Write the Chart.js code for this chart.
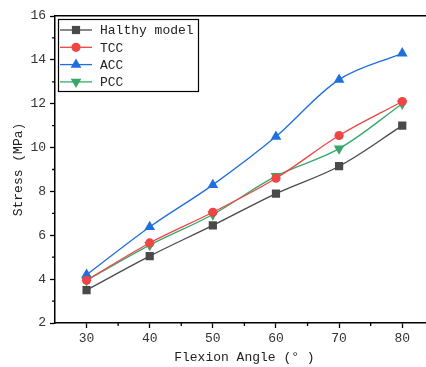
<!DOCTYPE html>
<html>
<head>
<meta charset="utf-8">
<script src="https://cdn.jsdelivr.net/npm/chart.js@4"></script>
<style>
  html, body { margin: 0; padding: 0; background: #fff; overflow: hidden; }
  #wrap { width: 440px; height: 367px; }
</style>
</head>
<body>
<div id="wrap"><canvas id="chart" width="440" height="367"></canvas></div>
<script>
// data
const angles = [30, 40, 50, 60, 70, 80];
const healthy = [3.5, 5.05, 6.45, 7.9, 9.15, 11.0];
const tcc = [3.95, 5.65, 7.05, 8.6, 10.55, 12.1];
const acc = [4.2, 6.38, 8.3, 10.5, 13.1, 14.3];
const pcc = [3.95, 5.55, 6.95, 8.7, 9.95, 12.0];

const xTicks = [30, 40, 50, 60, 70, 80];
const yTicks = [2, 4, 6, 8, 10, 12, 14, 16];
const xMinor = [35, 45, 55, 65, 75];
const yMinor = [3, 5, 7, 9, 11, 13, 15];

const FONT = "'Liberation Mono', monospace";

function series(label, values, color, style, size, rot) {
    return {
        label: label,
        data: angles.map((a, i) => ({ x: a, y: values[i] })),
        borderColor: color,
        backgroundColor: color,
        borderWidth: 1.3,
        pointStyle: style,
        pointRadius: size,
        pointHoverRadius: size,
        pointRotation: rot || 0,
        pointBorderWidth: 0,
        tension: 0.35,
        fill: false
    };
}

// minor ticks + legend box, placed from the chart's scales
const extras = {
    id: 'extras',
    afterDraw(chart) {
        const ctx = chart.ctx;
        const xs = chart.scales.x, ys = chart.scales.y;
        const area = chart.chartArea;
        ctx.save();
        ctx.strokeStyle = '#000';
        ctx.lineWidth = 1.3;
        ctx.beginPath();
        xMinor.forEach(v => {
            const px = xs.getPixelForValue(v);
            ctx.moveTo(px, area.bottom);
            ctx.lineTo(px, area.bottom + 3);
        });
        yMinor.forEach(v => {
            const py = ys.getPixelForValue(v);
            ctx.moveTo(area.left, py);
            ctx.lineTo(area.left - 3, py);
        });
        ctx.stroke();

        // legend
        const lx = area.left + 3, ly = area.top + 3;
        const bw = 140, bh = 72, rowH = 17.3;
        ctx.lineWidth = 1.2;
        ctx.strokeStyle = '#000';
        ctx.strokeRect(lx + 0.5, ly + 0.5, bw, bh);
        ctx.font = '13px ' + FONT;
        ctx.textBaseline = 'middle';
        chart.data.datasets.forEach((ds, i) => {
            const cy = ly + 11 + i * rowH;
            ctx.strokeStyle = ds.borderColor;
            ctx.lineWidth = 1.3;
            ctx.beginPath();
            ctx.moveTo(lx + 2, cy);
            ctx.lineTo(lx + 34, cy);
            ctx.stroke();
            ctx.fillStyle = ds.backgroundColor;
            ctx.strokeStyle = ds.backgroundColor;
            ctx.lineWidth = 0.01;
            Chart.helpers.drawPoint(ctx, {
                pointStyle: ds.pointStyle,
                rotation: ds.pointRotation,
                radius: ds.pointRadius,
                borderWidth: 0
            }, lx + 18, cy);
            ctx.fillStyle = '#222';
            ctx.fillText(ds.label, lx + 42, cy + 1);
        });
        ctx.restore();
    }
};

new Chart(document.getElementById('chart'), {
    type: 'line',
    data: {
        datasets: [
            series('Halthy model', healthy, '#4a4a4a', 'rect', 5.8),
            series('TCC', tcc, '#f04545', 'circle', 4.6),
            series('ACC', acc, '#1f6fe0', 'triangle', 6.2),
            series('PCC', pcc, '#37a86a', 'triangle', 6.2, 180)
        ]
    },
    options: {
        responsive: false,
        animation: false,
        layout: { padding: { left: 0, right: 4, top: 0, bottom: 0 } },
        plugins: {
            legend: { display: false },
            tooltip: { enabled: false }
        },
        scales: {
            x: {
                type: 'linear',
                position: 'bottom',
                min: 25,
                max: 85,
                afterBuildTicks: s => { s.ticks = xTicks.map(v => ({ value: v })); },
                afterFit: s => { s.height = 44; },
                border: { color: '#000', width: 1.5 },
                grid: { drawOnChartArea: false, tickLength: 5, color: '#000', tickWidth: 1.3 },
                ticks: { color: '#333', padding: 3, font: { family: FONT, size: 13 } },
                title: {
                    display: true,
                    text: 'Flexion Angle (° )',
                    color: '#222',
                    font: { family: FONT, size: 13, lineHeight: 1.2 },
                    padding: { top: 0, bottom: 2 }
                }
            },
            xTop: {
                type: 'linear',
                position: 'top',
                min: 25,
                max: 85,
                afterFit: s => { s.height = 16; },
                border: { color: '#000', width: 1.5 },
                grid: { drawOnChartArea: false, drawTicks: false },
                ticks: { display: false }
            },
            y: {
                type: 'linear',
                min: 2,
                max: 16,
                afterBuildTicks: s => { s.ticks = yTicks.map(v => ({ value: v })); },
                afterFit: s => { s.width = 55; },
                border: { color: '#000', width: 1.5 },
                grid: { drawOnChartArea: false, tickLength: 5, color: '#000', tickWidth: 1.3 },
                ticks: { color: '#333', padding: 4, font: { family: FONT, size: 13 } },
                title: {
                    display: true,
                    text: 'Stress (MPa)',
                    color: '#222',
                    font: { family: FONT, size: 13, lineHeight: 1.2 },
                    padding: { top: 11, bottom: 0 }
                }
            }
        }
    },
    plugins: [extras]
});
</script>
</body>
</html>
